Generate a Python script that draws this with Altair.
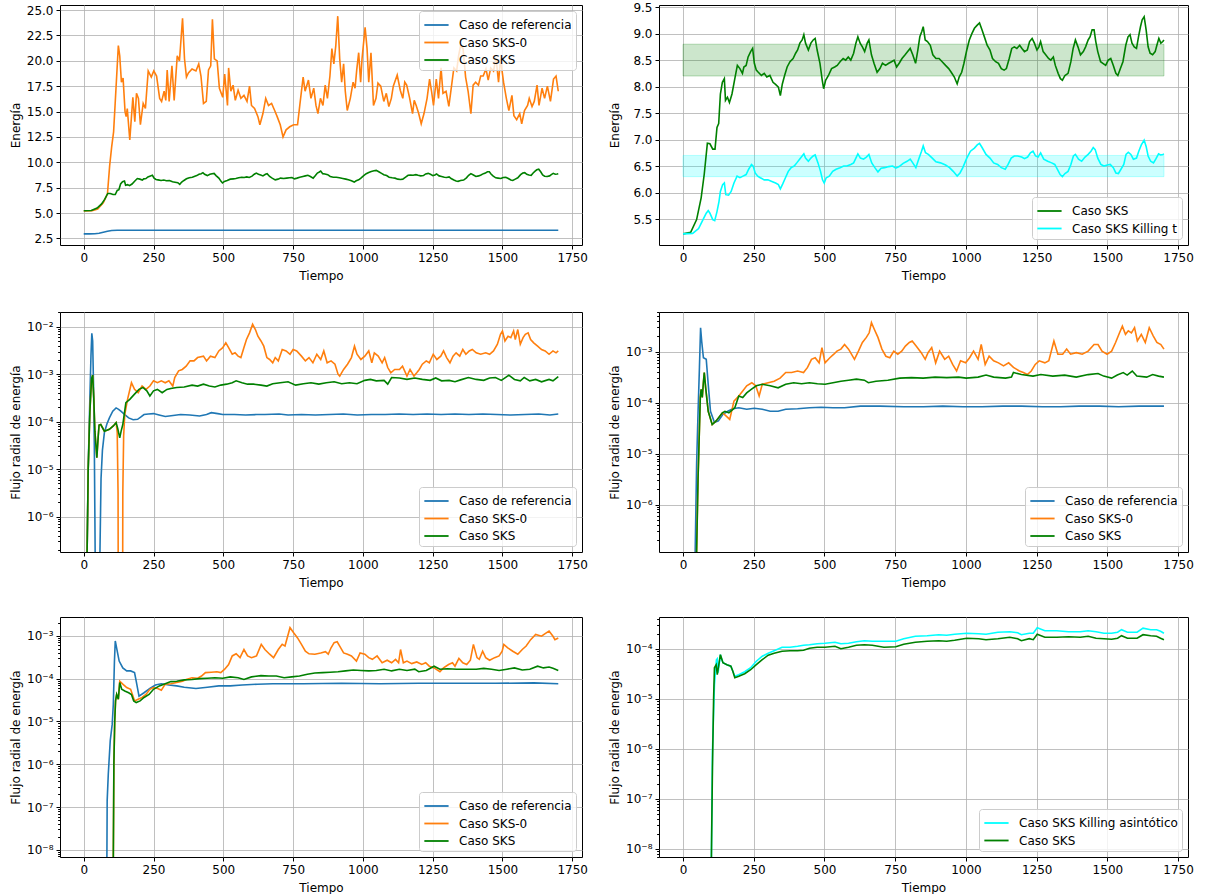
import altair as alt
import pandas as pd

FONT = "DejaVu Sans"
C_REF, C_SKS0, C_SKS, C_KIL = "#1f77b4", "#ff7f0e", "#008000", "#00ffff"
N_REF, N_SKS0, N_SKS = "Caso de referencia", "Caso SKS-0", "Caso SKS"
N_KILT, N_KILA = "Caso SKS Killing t", "Caso SKS Killing asintótico"

X_TICKS = [0, 250, 500, 750, 1000, 1250, 1500, 1750]

# ---------------- Energy (time, energy) ----------------
energia_ref = [(0, 2.95), (20, 2.95), (40, 2.96), (55, 3.0), (70, 3.1), (85, 3.2), (100, 3.28), (120, 3.3), (1700, 3.3)]

energia_sks0 = [(0, 5.2), (30, 5.22), (50, 5.4), (70, 6.0), (85, 6.9), (93, 9.7), (100, 11.5), (107, 13.0), (116, 17.5),
    (124, 21.5), (129, 20.5), (135, 17.9), (141, 18.3), (148, 15.0), (152, 14.5), (156, 15.3), (165, 12.2), (176, 16.4),
    (183, 14.0), (189, 16.8), (196, 16.3), (203, 13.7), (213, 15.8), (221, 15.3), (231, 19.0), (242, 18.4), (251, 19.0),
    (261, 18.5), (272, 16.3), (279, 16.0), (288, 17.0), (294, 16.1), (299, 19.1), (306, 16.0), (316, 19.5), (324, 16.1),
    (335, 20.5), (343, 20.0), (354, 24.2), (361, 20.2), (368, 18.4), (375, 18.8), (388, 19.2), (402, 19.0), (412, 19.7),
    (420, 18.5), (429, 15.8), (439, 16.0), (447, 19.1), (455, 19.5), (461, 24.1), (468, 20.2), (478, 20.0), (486, 17.3),
    (498, 16.4), (505, 18.7), (515, 15.6), (519, 19.3), (527, 17.0), (535, 17.6), (543, 16.1), (553, 17.1), (563, 16.3),
    (574, 16.6), (585, 16.0), (594, 17.5), (601, 15.6), (612, 15.3), (624, 14.5), (631, 13.7), (642, 14.8), (652, 16.3),
    (662, 15.6), (673, 15.8), (684, 15.1), (693, 14.5), (704, 13.7), (714, 12.5), (725, 13.2), (738, 13.5), (752, 13.7),
    (766, 13.7), (774, 15.6), (786, 18.4), (793, 17.0), (805, 18.1), (814, 16.3), (824, 17.3), (832, 15.6), (839, 14.8),
    (848, 16.3), (857, 15.6), (865, 17.6), (873, 16.3), (882, 18.5), (889, 21.2), (896, 19.7), (903, 21.5), (910, 24.4),
    (917, 20.2), (924, 17.9), (931, 19.7), (937, 17.0), (944, 15.1), (955, 16.3), (965, 17.9), (972, 17.3), (978, 19.1),
    (985, 20.8), (992, 17.9), (997, 20.2), (1008, 23.3), (1015, 21.2), (1021, 17.9), (1029, 20.8), (1038, 15.6),
    (1047, 16.3), (1054, 17.8), (1064, 17.5), (1075, 16.0), (1084, 16.8), (1093, 15.5), (1102, 16.3), (1109, 17.5),
    (1123, 18.6), (1134, 17.1), (1143, 16.3), (1150, 17.9), (1157, 17.6), (1167, 16.4), (1178, 14.8), (1184, 16.1),
    (1191, 15.6), (1200, 14.8), (1209, 13.8), (1219, 14.8), (1230, 16.3), (1239, 18.2), (1246, 17.0), (1253, 15.6),
    (1263, 18.2), (1271, 16.3), (1280, 19.3), (1287, 16.8), (1298, 17.0), (1308, 15.5), (1318, 17.6), (1326, 19.3),
    (1336, 19.0), (1343, 20.5), (1350, 21.5), (1359, 21.2), (1368, 18.4), (1377, 17.0), (1387, 14.8), (1395, 17.6),
    (1404, 17.9), (1414, 17.6), (1422, 18.5), (1431, 18.5), (1441, 19.2), (1449, 18.1), (1458, 19.3), (1468, 19.0),
    (1477, 20.3), (1486, 17.9), (1493, 20.2), (1504, 17.9), (1514, 16.3), (1523, 15.1), (1534, 16.6), (1541, 14.6),
    (1551, 14.2), (1562, 14.8), (1569, 13.8), (1579, 15.1), (1590, 15.6), (1596, 16.3), (1606, 15.5), (1614, 16.0),
    (1624, 17.6), (1631, 15.6), (1642, 17.3), (1651, 16.3), (1661, 17.5), (1672, 16.0), (1683, 18.2), (1692, 18.5),
    (1700, 17.0)]

energia_sks = [(0, 5.22), (27, 5.25), (48, 5.49), (64, 5.9), (75, 6.35), (86, 6.93), (95, 6.92), (105, 6.82), (113, 6.82),
    (120, 7.23), (126, 7.3), (132, 7.86), (139, 8.08), (146, 8.15), (150, 7.74), (157, 7.8), (164, 7.7), (173, 7.86),
    (184, 8.18), (192, 8.4), (201, 8.34), (210, 8.25), (215, 8.37), (223, 8.4), (230, 8.56), (239, 8.66), (246, 8.72),
    (252, 8.44), (259, 8.31), (266, 8.27), (277, 8.21), (287, 8.25), (296, 8.18), (307, 8.21), (318, 8.08), (327, 8.04),
    (337, 7.99), (344, 7.83), (351, 8.05), (359, 8.21), (368, 8.37), (378, 8.47), (389, 8.53), (398, 8.63), (405, 8.69),
    (413, 8.82), (421, 8.88), (427, 8.98), (433, 8.82), (443, 8.69), (452, 8.82), (460, 8.88), (467, 8.91), (474, 8.69),
    (484, 8.44), (492, 8.12), (497, 7.96), (504, 8.12), (514, 8.21), (525, 8.34), (536, 8.37), (545, 8.4), (555, 8.47),
    (566, 8.53), (575, 8.5), (584, 8.56), (593, 8.5), (603, 8.63), (611, 8.82), (618, 8.94), (626, 8.82), (634, 8.75),
    (642, 8.66), (651, 8.82), (657, 8.88), (666, 8.6), (675, 8.44), (686, 8.27), (696, 8.34), (705, 8.44), (716, 8.4),
    (727, 8.44), (737, 8.47), (746, 8.5), (755, 8.37), (764, 8.44), (774, 8.53), (785, 8.6), (794, 8.66), (803, 8.72),
    (812, 8.6), (822, 8.44), (830, 8.69), (837, 8.94), (844, 9.04), (849, 9.13), (856, 8.88), (864, 8.85), (874, 8.78),
    (883, 8.6), (894, 8.53), (905, 8.53), (916, 8.47), (928, 8.4), (939, 8.34), (948, 8.27), (959, 8.18), (969, 8.05),
    (976, 8.18), (985, 8.27), (993, 8.44), (1003, 8.69), (1012, 8.88), (1021, 9.0), (1030, 9.1), (1040, 9.16),
    (1048, 9.2), (1057, 9.07), (1067, 8.91), (1075, 8.78), (1085, 8.69), (1094, 8.53), (1105, 8.47), (1115, 8.44),
    (1125, 8.34), (1135, 8.31), (1143, 8.34), (1153, 8.53), (1162, 8.72), (1171, 8.75), (1180, 8.72), (1190, 8.78),
    (1198, 8.72), (1207, 8.66), (1217, 8.69), (1225, 8.85), (1234, 8.91), (1242, 8.82), (1251, 8.69), (1258, 8.75),
    (1264, 8.85), (1273, 8.66), (1282, 8.6), (1292, 8.53), (1300, 8.5), (1309, 8.56), (1316, 8.4), (1326, 8.25),
    (1334, 8.15), (1341, 8.12), (1350, 8.21), (1361, 8.25), (1371, 8.47), (1379, 8.72), (1387, 8.88), (1396, 8.75),
    (1405, 8.6), (1415, 8.66), (1423, 8.75), (1432, 8.88), (1439, 8.94), (1446, 9.07), (1453, 9.07), (1459, 8.85),
    (1466, 8.66), (1476, 8.47), (1484, 8.44), (1494, 8.4), (1503, 8.5), (1512, 8.53), (1521, 8.4), (1530, 8.25),
    (1537, 8.21), (1546, 8.34), (1555, 8.47), (1565, 8.78), (1573, 8.94), (1580, 8.98), (1587, 8.82), (1595, 8.75),
    (1603, 8.72), (1610, 8.94), (1617, 9.13), (1623, 9.26), (1630, 9.32), (1637, 9.07), (1644, 8.75), (1651, 8.63),
    (1660, 8.6), (1669, 8.66), (1675, 8.78), (1682, 8.91), (1689, 8.82), (1696, 8.85), (1700, 8.88)]

energia_killing_t = [(0, 5.22), (34, 5.23), (55, 5.32), (68, 5.46), (82, 5.61), (89, 5.66), (95, 5.61), (105, 5.49),
    (112, 5.47), (120, 5.64), (127, 5.83), (132, 6.02), (140, 6.15), (146, 6.18), (151, 5.96), (161, 5.95), (170, 6.02),
    (180, 6.18), (191, 6.31), (201, 6.28), (212, 6.31), (223, 6.34), (232, 6.44), (242, 6.53), (248, 6.5), (255, 6.37),
    (264, 6.31), (273, 6.28), (287, 6.24), (300, 6.24), (314, 6.21), (327, 6.18), (337, 6.15), (344, 6.07), (352, 6.16),
    (362, 6.28), (372, 6.4), (382, 6.47), (393, 6.5), (402, 6.56), (412, 6.63), (421, 6.69), (427, 6.73), (433, 6.65),
    (443, 6.59), (452, 6.65), (460, 6.69), (467, 6.71), (477, 6.56), (486, 6.4), (493, 6.24), (499, 6.18), (506, 6.28),
    (517, 6.31), (529, 6.4), (541, 6.44), (555, 6.47), (568, 6.5), (579, 6.5), (593, 6.53), (603, 6.56), (611, 6.65),
    (618, 6.73), (627, 6.65), (638, 6.63), (648, 6.67), (657, 6.72), (667, 6.56), (678, 6.47), (689, 6.39), (700, 6.46),
    (713, 6.47), (727, 6.49), (741, 6.5), (752, 6.46), (764, 6.49), (778, 6.55), (792, 6.59), (803, 6.63), (812, 6.56),
    (823, 6.47), (833, 6.63), (843, 6.78), (849, 6.88), (857, 6.75), (867, 6.72), (881, 6.65), (894, 6.58), (910, 6.56),
    (928, 6.52), (942, 6.47), (955, 6.4), (969, 6.31), (979, 6.37), (989, 6.47), (1003, 6.65), (1016, 6.78), (1030, 6.84),
    (1040, 6.9), (1048, 6.93), (1057, 6.85), (1071, 6.72), (1085, 6.65), (1098, 6.56), (1112, 6.53), (1125, 6.47),
    (1139, 6.44), (1149, 6.53), (1160, 6.65), (1171, 6.69), (1183, 6.69), (1197, 6.67), (1207, 6.64), (1218, 6.67),
    (1228, 6.75), (1237, 6.78), (1246, 6.69), (1255, 6.67), (1264, 6.75), (1275, 6.63), (1289, 6.59), (1303, 6.56),
    (1314, 6.53), (1323, 6.44), (1333, 6.34), (1341, 6.3), (1350, 6.36), (1361, 6.4), (1371, 6.53), (1380, 6.69),
    (1387, 6.72), (1398, 6.63), (1409, 6.59), (1421, 6.67), (1432, 6.72), (1442, 6.78), (1450, 6.85), (1457, 6.81),
    (1466, 6.65), (1477, 6.53), (1488, 6.5), (1500, 6.52), (1510, 6.53), (1521, 6.47), (1530, 6.37), (1539, 6.36),
    (1548, 6.44), (1558, 6.53), (1566, 6.72), (1574, 6.76), (1583, 6.72), (1592, 6.63), (1603, 6.65), (1611, 6.78),
    (1620, 6.9), (1630, 6.99), (1637, 6.87), (1644, 6.69), (1653, 6.59), (1663, 6.56), (1671, 6.63), (1681, 6.73),
    (1688, 6.71), (1696, 6.72), (1700, 6.73)]

# shaded bands of the top-right panel: (start, end, low, high)
banda_sks = (0, 1700, 8.2, 8.8)
banda_killing = (0, 1700, 6.3, 6.7)

# ---------------- Radial flux, read as log10(flux) ----------------
# panel middle-left
flujo1_ref = [(0, -12), (10, -12), (12, -6.8), (16, -5.0), (22, -3.5), (26, -2.6), (29, -2.14), (32, -2.3), (35, -3.2),
    (38, -4.5), (41, -6.8), (43, -12), (56, -12), (58, -6.8), (62, -5.2), (67, -4.6), (74, -4.23), (83, -4.05),
    (92, -3.92), (104, -3.78), (116, -3.71), (125, -3.74), (133, -3.78), (147, -3.85), (161, -3.92), (177, -3.96),
    (193, -3.95), (205, -3.9), (216, -3.85), (232, -3.84), (250, -3.83), (270, -3.86), (292, -3.89), (320, -3.87),
    (347, -3.85), (380, -3.86), (415, -3.88), (440, -3.85), (457, -3.81), (480, -3.83), (498, -3.85), (540, -3.85),
    (580, -3.86), (620, -3.85), (649, -3.85), (700, -3.84), (732, -3.86), (780, -3.85), (830, -3.86), (880, -3.85),
    (930, -3.84), (980, -3.86), (1030, -3.85), (1080, -3.85), (1130, -3.84), (1180, -3.85), (1230, -3.84),
    (1280, -3.85), (1330, -3.84), (1380, -3.85), (1430, -3.84), (1480, -3.85), (1530, -3.86), (1580, -3.85),
    (1630, -3.84), (1670, -3.86), (1700, -3.84)]

flujo1_sks0 = [(0, -12), (10, -12), (12, -6.8), (16, -5.0), (22, -3.8), (28, -3.1), (32, -3.02), (36, -3.5), (40, -4.2),
    (47, -4.76), (52, -4.3), (55, -4.07), (61, -4.06), (74, -4.20), (92, -4.16), (106, -4.09), (116, -4.02), (120, -4.23),
    (123, -5.5), (125, -12), (138, -12), (140, -5.5), (143, -4.3), (147, -3.85), (157, -3.53), (171, -3.18), (182, -3.32),
    (195, -3.39), (209, -3.25), (223, -3.32), (237, -3.25), (250, -3.14), (264, -3.18), (278, -3.14), (292, -3.18),
    (305, -3.14), (319, -3.25), (326, -3.07), (340, -2.93), (353, -2.90), (367, -2.83), (381, -2.72), (395, -2.72),
    (408, -2.65), (429, -2.62), (440, -2.72), (454, -2.62), (470, -2.65), (484, -2.51), (498, -2.44), (509, -2.34),
    (519, -2.44), (532, -2.58), (542, -2.55), (553, -2.62), (563, -2.65), (574, -2.44), (583, -2.27), (594, -2.13),
    (605, -1.95), (615, -2.06), (624, -2.20), (635, -2.30), (645, -2.41), (656, -2.65), (666, -2.69), (677, -2.76),
    (686, -2.65), (697, -2.72), (711, -2.48), (725, -2.51), (739, -2.58), (750, -2.48), (763, -2.51), (780, -2.62),
    (794, -2.72), (807, -2.65), (821, -2.76), (835, -2.58), (849, -2.69), (860, -2.51), (872, -2.76), (886, -2.72),
    (900, -2.79), (911, -3.00), (917, -3.04), (931, -2.90), (945, -2.79), (959, -2.65), (970, -2.41), (979, -2.58),
    (993, -2.69), (1007, -2.62), (1021, -2.51), (1032, -2.76), (1041, -2.55), (1055, -2.62), (1069, -2.76),
    (1078, -2.65), (1089, -2.86), (1100, -2.97), (1114, -2.90), (1131, -2.90), (1142, -2.83), (1158, -3.04),
    (1169, -2.90), (1183, -3.04), (1193, -2.97), (1202, -2.90), (1213, -2.79), (1227, -2.72), (1238, -2.76),
    (1252, -2.58), (1265, -2.69), (1279, -2.62), (1289, -2.51), (1300, -2.65), (1312, -2.76), (1323, -2.62),
    (1334, -2.55), (1347, -2.62), (1358, -2.48), (1369, -2.58), (1381, -2.51), (1392, -2.48), (1406, -2.55),
    (1422, -2.58), (1440, -2.55), (1454, -2.58), (1468, -2.51), (1482, -2.37), (1493, -2.16), (1500, -2.09),
    (1509, -2.30), (1520, -2.20), (1530, -2.23), (1540, -2.09), (1546, -2.27), (1555, -2.06), (1564, -2.37),
    (1574, -2.23), (1582, -2.16), (1592, -2.13), (1601, -2.27), (1612, -2.34), (1626, -2.41), (1640, -2.48),
    (1653, -2.51), (1667, -2.58), (1681, -2.51), (1692, -2.55), (1700, -2.51)]

flujo1_sks = [(0, -12), (10, -12), (12, -6.8), (16, -5.0), (22, -3.8), (28, -3.1), (32, -3.02), (36, -3.5), (40, -4.2),
    (47, -4.76), (52, -4.3), (55, -4.07), (61, -4.06), (74, -4.20), (92, -4.16), (106, -4.09), (116, -4.02),
    (122, -4.15), (129, -4.34), (134, -4.2), (140, -4.06), (151, -3.60), (165, -3.53), (182, -3.42), (198, -3.32),
    (212, -3.28), (226, -3.35), (237, -3.46), (250, -3.35), (264, -3.32), (281, -3.39), (298, -3.32), (312, -3.30),
    (333, -3.28), (360, -3.27), (388, -3.23), (408, -3.25), (429, -3.21), (450, -3.25), (470, -3.27), (491, -3.23),
    (512, -3.21), (532, -3.18), (546, -3.14), (567, -3.18), (587, -3.21), (608, -3.21), (635, -3.23), (656, -3.25),
    (677, -3.20), (704, -3.18), (732, -3.16), (759, -3.23), (787, -3.20), (814, -3.18), (842, -3.21), (869, -3.18),
    (897, -3.16), (924, -3.20), (952, -3.18), (979, -3.20), (1007, -3.13), (1027, -3.11), (1048, -3.14), (1076, -3.13),
    (1089, -3.21), (1103, -3.07), (1131, -3.08), (1158, -3.11), (1186, -3.08), (1213, -3.11), (1241, -3.13),
    (1261, -3.08), (1282, -3.14), (1309, -3.13), (1330, -3.16), (1350, -3.12), (1378, -3.07), (1406, -3.11),
    (1433, -3.13), (1454, -3.08), (1475, -3.07), (1496, -3.13), (1513, -3.06), (1523, -3.02), (1543, -3.11),
    (1564, -3.14), (1578, -3.07), (1598, -3.14), (1619, -3.11), (1640, -3.16), (1667, -3.11), (1681, -3.14),
    (1700, -3.05)]

# panel middle-right
flujo2_ref = [(0, -12), (40, -12), (43, -6.9), (48, -5.2), (53, -4.2), (58, -3.3), (62, -2.53), (66, -2.8), (72, -3.12),
    (82, -3.15), (89, -3.64), (97, -4.17), (111, -4.39), (125, -4.36), (141, -4.23), (158, -4.17), (176, -4.12),
    (197, -4.10), (225, -4.13), (252, -4.11), (280, -4.13), (308, -4.17), (336, -4.17), (363, -4.13), (405, -4.12),
    (447, -4.10), (488, -4.09), (530, -4.10), (571, -4.10), (627, -4.07), (696, -4.07), (780, -4.08), (850, -4.08),
    (918, -4.07), (990, -4.08), (1057, -4.08), (1130, -4.07), (1196, -4.07), (1270, -4.08), (1335, -4.08),
    (1400, -4.07), (1473, -4.07), (1540, -4.08), (1612, -4.07), (1660, -4.07), (1700, -4.07)]

flujo2_sks0 = [(0, -12), (45, -12), (48, -6.9), (53, -5.5), (58, -4.5), (61, -3.9), (64, -3.74), (68, -3.90), (72, -3.6),
    (75, -3.41), (80, -3.71), (89, -4.17), (103, -4.43), (117, -4.36), (139, -4.20), (150, -4.25), (165, -4.33),
    (180, -3.97), (197, -3.87), (211, -3.77), (225, -3.67), (243, -3.61), (257, -3.67), (269, -3.87), (280, -3.64),
    (301, -3.61), (322, -3.58), (343, -3.52), (363, -3.41), (384, -3.41), (405, -3.38), (426, -3.41), (440, -3.31),
    (454, -3.15), (467, -3.12), (481, -3.22), (491, -2.92), (502, -3.22), (519, -3.12), (533, -3.05), (544, -2.99),
    (558, -2.95), (571, -2.86), (585, -2.95), (606, -3.15), (620, -2.99), (634, -2.82), (648, -2.72), (658, -2.63),
    (666, -2.43), (676, -2.56), (689, -2.72), (703, -2.95), (717, -3.09), (731, -3.12), (745, -2.99), (759, -3.05),
    (773, -2.99), (786, -2.89), (800, -2.82), (810, -2.79), (824, -2.89), (842, -3.02), (856, -3.15), (866, -3.02),
    (879, -2.92), (893, -3.22), (907, -2.99), (925, -3.15), (939, -3.09), (953, -3.25), (967, -3.38), (981, -3.18),
    (999, -3.22), (1013, -3.12), (1027, -2.99), (1043, -3.15), (1054, -2.86), (1068, -3.25), (1082, -3.09),
    (1098, -3.18), (1115, -3.22), (1133, -3.28), (1151, -3.22), (1168, -3.31), (1189, -3.38), (1203, -3.41),
    (1217, -3.45), (1231, -3.38), (1245, -3.25), (1259, -3.18), (1279, -3.22), (1293, -3.18), (1311, -2.79),
    (1325, -3.05), (1342, -3.05), (1356, -2.95), (1370, -3.05), (1390, -3.02), (1411, -3.05), (1432, -2.99),
    (1453, -2.86), (1467, -2.86), (1481, -2.99), (1499, -3.05), (1515, -2.99), (1529, -2.82), (1543, -2.63),
    (1553, -2.50), (1564, -2.66), (1574, -2.59), (1585, -2.63), (1596, -2.53), (1606, -2.79), (1620, -2.66),
    (1634, -2.82), (1648, -2.53), (1662, -2.69), (1675, -2.82), (1689, -2.86), (1700, -2.95)]

flujo2_sks = [(0, -12), (45, -12), (48, -6.9), (53, -5.5), (58, -4.5), (61, -3.9), (64, -3.74), (68, -3.90), (72, -3.6),
    (75, -3.41), (80, -3.71), (89, -4.17), (103, -4.43), (117, -4.36), (139, -4.20), (148, -4.17), (162, -4.20),
    (183, -4.10), (197, -3.87), (211, -3.90), (225, -3.81), (241, -3.74), (259, -3.67), (280, -3.64), (308, -3.67),
    (336, -3.71), (363, -3.64), (391, -3.61), (419, -3.63), (447, -3.61), (475, -3.63), (502, -3.64), (530, -3.61),
    (558, -3.58), (585, -3.56), (613, -3.54), (641, -3.56), (655, -3.61), (682, -3.58), (724, -3.56), (766, -3.52),
    (807, -3.51), (849, -3.52), (891, -3.50), (932, -3.51), (974, -3.50), (1001, -3.52), (1043, -3.50), (1071, -3.46),
    (1098, -3.50), (1140, -3.52), (1161, -3.50), (1168, -3.41), (1196, -3.45), (1237, -3.48), (1265, -3.45),
    (1307, -3.48), (1349, -3.46), (1390, -3.50), (1432, -3.45), (1467, -3.43), (1487, -3.48), (1515, -3.52),
    (1535, -3.46), (1556, -3.41), (1570, -3.46), (1588, -3.38), (1604, -3.48), (1639, -3.50), (1660, -3.45),
    (1681, -3.48), (1700, -3.50)]

# panel bottom-left
flujo3_ref = [(0, -12), (80, -12), (83, -8.2), (84, -6.85), (88, -6.23), (95, -5.45), (102, -5.07), (106, -4.6),
    (110, -3.6), (113, -3.12), (120, -3.36), (127, -3.59), (140, -3.75), (154, -3.82), (168, -3.82), (182, -3.86),
    (188, -4.06), (198, -4.41), (216, -4.33), (237, -4.23), (257, -4.15), (278, -4.12), (305, -4.15), (333, -4.17),
    (360, -4.20), (402, -4.23), (443, -4.20), (484, -4.17), (525, -4.17), (567, -4.15), (622, -4.13), (677, -4.12),
    (787, -4.12), (924, -4.11), (1062, -4.12), (1200, -4.11), (1337, -4.11), (1475, -4.11), (1612, -4.10),
    (1700, -4.12)]

flujo3_sks0 = [(0, -12), (104, -12), (106, -8.2), (108, -6.0), (111, -5.0), (114, -4.52), (118, -4.37), (124, -4.48),
    (129, -4.06), (140, -4.13), (154, -4.21), (168, -4.25), (182, -4.52), (195, -4.48), (209, -4.44), (223, -4.37),
    (237, -4.25), (250, -4.21), (265, -4.23), (278, -4.27), (292, -4.13), (312, -4.12), (333, -4.09), (354, -4.06),
    (367, -4.02), (388, -3.98), (408, -3.99), (422, -3.94), (436, -3.86), (457, -3.85), (477, -3.84), (491, -3.86),
    (505, -3.78), (519, -3.67), (532, -3.47), (546, -3.42), (560, -3.51), (574, -3.32), (587, -3.47), (601, -3.51),
    (619, -3.47), (636, -3.20), (649, -3.32), (666, -3.43), (680, -3.51), (697, -3.32), (711, -3.20), (721, -3.24),
    (739, -2.81), (752, -2.93), (766, -3.05), (780, -3.20), (794, -3.36), (807, -3.42), (828, -3.43), (849, -3.40),
    (866, -3.37), (876, -3.43), (886, -3.28), (897, -3.16), (908, -3.14), (917, -3.24), (931, -3.40), (945, -3.43),
    (959, -3.47), (977, -3.59), (990, -3.40), (1007, -3.43), (1021, -3.51), (1034, -3.55), (1051, -3.47),
    (1069, -3.63), (1087, -3.57), (1103, -3.63), (1117, -3.55), (1128, -3.63), (1135, -3.32), (1145, -3.63),
    (1158, -3.59), (1175, -3.65), (1193, -3.61), (1211, -3.67), (1225, -3.63), (1238, -3.71), (1255, -3.75),
    (1276, -3.84), (1289, -3.75), (1307, -3.67), (1321, -3.63), (1330, -3.71), (1344, -3.53), (1358, -3.63),
    (1372, -3.67), (1385, -3.57), (1396, -3.20), (1409, -3.51), (1417, -3.55), (1429, -3.36), (1440, -3.51),
    (1454, -3.57), (1472, -3.51), (1488, -3.47), (1499, -3.36), (1505, -3.20), (1519, -3.28), (1537, -3.36),
    (1555, -3.43), (1571, -3.32), (1585, -3.24), (1601, -3.09), (1619, -2.97), (1640, -3.01), (1653, -2.95),
    (1667, -2.89), (1681, -3.01), (1688, -3.09), (1700, -3.05)]

flujo3_sks = [(0, -12), (104, -12), (106, -8.2), (108, -6.0), (111, -5.0), (114, -4.52), (118, -4.37), (124, -4.48),
    (129, -4.09), (136, -4.25), (147, -4.29), (161, -4.33), (171, -4.37), (179, -4.52), (188, -4.56), (202, -4.52),
    (216, -4.44), (234, -4.37), (250, -4.25), (271, -4.17), (292, -4.12), (312, -4.07), (333, -4.06), (360, -4.03),
    (388, -4.02), (415, -4.00), (443, -3.99), (470, -3.98), (498, -3.99), (525, -3.96), (553, -3.98), (574, -4.02),
    (601, -3.96), (635, -3.93), (663, -3.94), (690, -3.94), (718, -3.98), (745, -3.96), (773, -3.94), (801, -3.90),
    (828, -3.87), (856, -3.86), (883, -3.85), (911, -3.84), (938, -3.82), (966, -3.80), (993, -3.81), (1021, -3.82),
    (1048, -3.81), (1076, -3.78), (1103, -3.82), (1131, -3.78), (1158, -3.81), (1186, -3.78), (1200, -3.84),
    (1227, -3.81), (1255, -3.71), (1276, -3.78), (1303, -3.77), (1337, -3.78), (1372, -3.78), (1406, -3.78),
    (1433, -3.76), (1461, -3.78), (1488, -3.81), (1516, -3.78), (1543, -3.75), (1571, -3.80), (1598, -3.78),
    (1626, -3.71), (1647, -3.75), (1667, -3.73), (1681, -3.76), (1700, -3.81)]

# panel bottom-right
flujo4_killing = [(0, -12), (98, -12), (100, -8.3), (104, -6.04), (111, -4.72), (118, -4.22), (121, -4.20), (124, -4.48),
    (132, -4.12), (141, -4.28), (155, -4.32), (169, -4.35), (176, -4.45), (183, -4.55), (197, -4.52), (218, -4.46),
    (239, -4.38), (259, -4.25), (280, -4.15), (301, -4.09), (322, -4.04), (350, -3.97), (378, -3.97), (405, -3.95),
    (426, -3.93), (447, -3.92), (474, -3.90), (502, -3.89), (537, -3.87), (558, -3.90), (585, -3.89), (613, -3.86),
    (641, -3.84), (669, -3.85), (710, -3.85), (752, -3.85), (780, -3.80), (821, -3.75), (863, -3.74), (904, -3.72),
    (932, -3.73), (960, -3.71), (1003, -3.69), (1045, -3.70), (1071, -3.71), (1113, -3.67), (1155, -3.66),
    (1183, -3.68), (1196, -3.72), (1224, -3.69), (1238, -3.69), (1252, -3.58), (1279, -3.64), (1321, -3.64),
    (1363, -3.66), (1404, -3.66), (1432, -3.64), (1460, -3.66), (1488, -3.69), (1515, -3.69), (1536, -3.67),
    (1550, -3.62), (1571, -3.67), (1605, -3.67), (1626, -3.59), (1653, -3.62), (1674, -3.62), (1688, -3.65),
    (1700, -3.69)]

flujo4_sks = [(0, -12), (98, -12), (100, -8.3), (104, -6.37), (108, -5.0), (111, -4.38), (117, -4.32), (121, -4.52),
    (132, -4.12), (141, -4.28), (155, -4.32), (169, -4.35), (176, -4.45), (183, -4.58), (197, -4.55), (218, -4.50),
    (239, -4.42), (259, -4.32), (280, -4.22), (301, -4.13), (322, -4.09), (350, -4.05), (378, -4.04), (405, -4.04),
    (426, -4.03), (447, -3.99), (474, -3.97), (502, -3.97), (537, -3.95), (558, -4.0), (585, -3.97), (613, -3.93),
    (641, -3.92), (669, -3.93), (710, -3.97), (752, -3.96), (780, -3.91), (821, -3.87), (863, -3.85), (904, -3.84),
    (932, -3.85), (960, -3.83), (1003, -3.79), (1045, -3.80), (1071, -3.82), (1113, -3.80), (1155, -3.77),
    (1183, -3.80), (1196, -3.84), (1224, -3.80), (1238, -3.82), (1252, -3.71), (1279, -3.77), (1321, -3.77),
    (1363, -3.76), (1404, -3.77), (1432, -3.75), (1460, -3.79), (1488, -3.80), (1515, -3.81), (1536, -3.79),
    (1550, -3.74), (1571, -3.79), (1605, -3.79), (1626, -3.72), (1653, -3.74), (1674, -3.75), (1688, -3.79),
    (1700, -3.82)]

# ---------------- helpers ----------------
SUP = {-1: "⁻¹", -2: "⁻²", -3: "⁻³", -4: "⁻⁴", -5: "⁻⁵", -6: "⁻⁶", -7: "⁻⁷", -8: "⁻⁸", -9: "⁻⁹"}
EXP = "round(log(datum.value)/LN10)"
MAJOR = "abs(log(datum.value)/LN10 - round(log(datum.value)/LN10)) < 0.01"
sup_expr = "''"
for k, s in SUP.items():
    sup_expr = f"({EXP} == {k} ? '{s}' : {sup_expr})"
LOG_LABEL = f"({MAJOR}) ? '10' + {sup_expr} : ''"

# legend handle: a horizontal stroke, longer than its layout box
HANDLE = "M-1,0H1.8"


def frame(pairs, name, log=False):
    return pd.DataFrame({
        "t": [p[0] for p in pairs],
        "v": [10 ** p[1] if log else p[1] for p in pairs],
        "serie": name,
    })


def x_enc():
    return alt.X("t:Q", scale=alt.Scale(domain=[-85, 1785], nice=False, zero=False),
                 axis=alt.Axis(values=X_TICKS, title="Tiempo", format="d", labelFlush=False, titlePadding=7))


def y_enc(ydom, log, ticks, title):
    if log:
        scale = alt.Scale(type="log", domain=ydom, nice=False)
        axis = alt.Axis(values=ticks, title=title, labelExpr=LOG_LABEL, labelOverlap=False,
                        tickSize={"condition": {"test": MAJOR, "value": 4}, "value": 2.4},
                        gridOpacity={"condition": {"test": MAJOR, "value": 1}, "value": 0},
                        minExtent=34, maxExtent=34, titlePadding=4, labelFlush=False)
    else:
        scale = alt.Scale(domain=ydom, nice=False, zero=False)
        axis = alt.Axis(values=ticks, title=title, format=".1f", minExtent=34, maxExtent=34,
                        titlePadding=4, labelFlush=False)
    return alt.Y("v:Q", scale=scale, axis=axis)


def panel(series, ydom, log, ticks, title, orient, w, h, bands=()):
    names = [s[1] for s in series]
    colors = [s[2] for s in series]
    color = alt.Color("serie:N", scale=alt.Scale(domain=names, range=colors),
                      legend=alt.Legend(orient=orient, title=None, symbolType=HANDLE, symbolSize=300,
                                        symbolStrokeWidth=1.8, labelFontSize=12, labelFont=FONT,
                                        fillColor="rgba(255,255,255,0.8)", strokeColor="#cccccc",
                                        cornerRadius=3, padding=4, rowPadding=1.5, offset=6, labelOffset=16,
                                        labelLimit=400))
    layers = []
    for (b, col) in bands:
        bdf = pd.DataFrame({"t": [b[0]], "t2": [b[1]], "v": [b[2]], "v2": [b[3]]})
        layers.append(alt.Chart(bdf).mark_rect(fill=col, fillOpacity=0.2, stroke=col, strokeOpacity=0.25,
                                               strokeWidth=1, clip=True).encode(
            x=x_enc(), x2="t2", y=y_enc(ydom, log, ticks, title), y2="v2"))
    for pairs, name, col in series:
        df = frame(pairs, name, log)
        layers.append(alt.Chart(df).mark_line(clip=True, strokeWidth=1.6).encode(
            x=x_enc(), y=y_enc(ydom, log, ticks, title), color=color, order="t:Q"))
    return alt.layer(*layers).properties(width=w, height=h)


def log_ticks(lo, hi):
    return [m * 10.0 ** k for k in range(-10, 0) for m in range(1, 10) if lo <= m * 10.0 ** k <= hi]


WL, WR, H = 522, 529, 240
T_E = "Energía"
T_F = "Flujo radial de energía"

p1 = panel([(energia_ref, N_REF, C_REF), (energia_sks0, N_SKS0, C_SKS0), (energia_sks, N_SKS, C_SKS)],
           [1.85, 25.5], False, [2.5, 5, 7.5, 10, 12.5, 15, 17.5, 20, 22.5, 25], T_E, "top-right", WL, H)
p2 = panel([(energia_sks, N_SKS, C_SKS), (energia_killing_t, N_KILT, C_KIL)],
           [5.01, 9.54], False, [5.5, 6, 6.5, 7, 7.5, 8, 8.5, 9, 9.5], T_E, "bottom-right", WR, H,
           bands=[(banda_sks, C_SKS), (banda_killing, C_KIL)])
p3 = panel([(flujo1_ref, N_REF, C_REF), (flujo1_sks0, N_SKS0, C_SKS0), (flujo1_sks, N_SKS, C_SKS)],
           [1.8e-7, 2.04e-2], True, log_ticks(1.8e-7, 2.04e-2), T_F, "bottom-right", WL, H)
p4 = panel([(flujo2_ref, N_REF, C_REF), (flujo2_sks0, N_SKS0, C_SKS0), (flujo2_sks, N_SKS, C_SKS)],
           [1.17e-7, 6.0e-3], True, log_ticks(1.17e-7, 6.0e-3), T_F, "bottom-right", WR, H)
p5 = panel([(flujo3_ref, N_REF, C_REF), (flujo3_sks0, N_SKS0, C_SKS0), (flujo3_sks, N_SKS, C_SKS)],
           [6.8e-9, 2.75e-3], True, log_ticks(6.8e-9, 2.75e-3), T_F, "bottom-right", WL, H)
p6 = panel([(flujo4_killing, N_KILA, C_KIL), (flujo4_sks, N_SKS, C_SKS)],
           [6.9e-9, 4.3e-4], True, log_ticks(6.9e-9, 4.3e-4), T_F, "bottom-right", WR, H)


def row(a, b):
    return alt.hconcat(a, b, spacing=19).resolve_scale(color="independent", x="independent", y="independent")


chart = alt.vconcat(row(p1, p2), row(p3, p4), row(p5, p6), spacing=23).resolve_scale(
    color="independent", x="independent", y="independent"
).properties(
    padding={"left": 8, "top": 0, "right": 5, "bottom": 5}
).configure(
    font=FONT
).configure_view(
    stroke="black", strokeWidth=1
).configure_axis(
    labelFont=FONT, labelFontSize=12, labelColor="black", titleFont=FONT, titleFontSize=12,
    titleFontWeight="normal", titleColor="black", tickColor="black", tickSize=4, tickWidth=1,
    gridColor="#b0b0b0", gridWidth=0.8, domain=False, labelPadding=3
)

chart.save("out.html", embed_options={"renderer": "svg", "actions": False})
